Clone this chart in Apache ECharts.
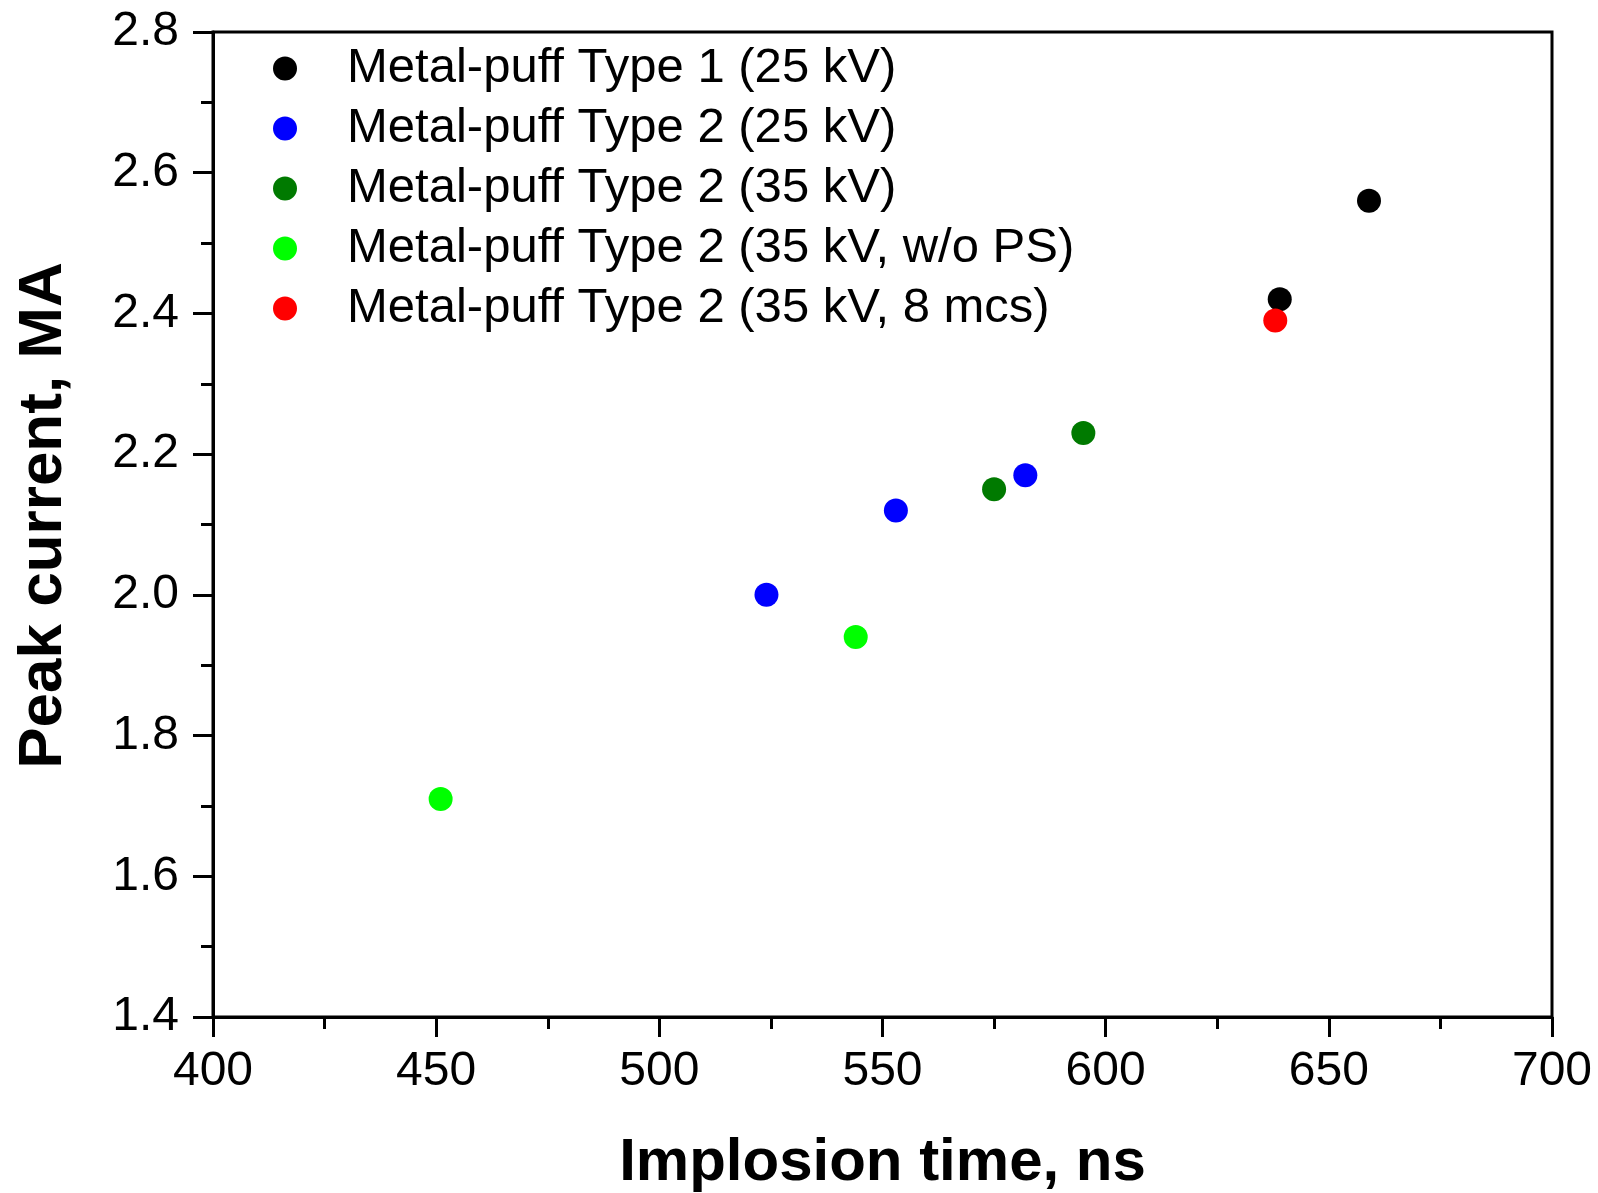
<!DOCTYPE html>
<html>
<head>
<meta charset="utf-8">
<title>Peak current vs implosion time</title>
<script src="https://cdn.jsdelivr.net/npm/echarts@6/dist/echarts.min.js"></script>
<style>
  html, body { margin: 0; padding: 0; background: #fff; }
  #chart { width: 1598px; height: 1193px; }
</style>
</head>
<body>
<div id="chart"></div>
<script>
// series names (legend order)
const seriesNames = [
  'Metal-puff Type 1 (25 kV)',
  'Metal-puff Type 2 (25 kV)',
  'Metal-puff Type 2 (35 kV)',
  'Metal-puff Type 2 (35 kV, w/o PS)',
  'Metal-puff Type 2 (35 kV, 8 mcs)'
];
const seriesColors = ['#000000', '#0000ff', '#007a00', '#00ff00', '#ff0000'];

// implosion time (ns) / peak current (MA)
const type1_25kV     = [[639, 2.42], [659, 2.56]];
const type2_25kV     = [[524, 2.00], [553, 2.12], [582, 2.17]];
const type2_35kV     = [[575, 2.15], [595, 2.23]];
const type2_35kV_noPS = [[451, 1.71], [544, 1.94]];
const type2_35kV_8mcs = [[638, 2.39]];

const seriesData = [type1_25kV, type2_25kV, type2_35kV, type2_35kV_noPS, type2_35kV_8mcs];

const fontFamily = 'Arial, "Liberation Sans", Helvetica, sans-serif';

(function () {
  const chart = echarts.init(document.getElementById('chart'));

  const axisCommon = {
    axisLine: { show: true, onZero: false, lineStyle: { color: '#000', width: 3 } },
    axisTick: { show: true, inside: false, length: 20, lineStyle: { color: '#000', width: 3 } },
    minorTick: { show: true, splitNumber: 2, length: 12, lineStyle: { color: '#000', width: 3 } },
    splitLine: { show: false },
    nameLocation: 'middle'
  };

  chart.setOption({
    animation: false,
    backgroundColor: '#fff',
    grid: {
      left: 213, right: 46, top: 32, bottom: 176,
      outerBoundsMode: 'none',
      containLabel: false,
      show: true, borderColor: '#000', borderWidth: 3
    },
    legend: {
      orient: 'vertical',
      left: 268,
      top: 39,
      icon: 'circle',
      itemWidth: 24,
      itemHeight: 24,
      itemGap: 11,
      data: seriesNames,
      textStyle: {
        fontFamily: fontFamily, fontSize: 49, color: '#000',
        lineHeight: 49, padding: [0, 0, 0, 45]
      }
    },
    xAxis: Object.assign({}, axisCommon, {
      type: 'value',
      min: 400, max: 700, interval: 50,
      name: 'Implosion time, ns',
      nameGap: 116,
      nameTextStyle: { fontFamily: fontFamily, fontSize: 60, fontWeight: 'bold', color: '#000' },
      axisLabel: { margin: 31, fontFamily: fontFamily, fontSize: 48, color: '#000' }
    }),
    yAxis: Object.assign({}, axisCommon, {
      type: 'value',
      min: 1.4, max: 2.8, interval: 0.2,
      name: 'Peak current, MA',
      nameGap: 138,
      nameTextStyle: {
        fontFamily: fontFamily, fontSize: 62, fontWeight: 'bold', color: '#000',
        padding: [0, 0, 0, 18]
      },
      axisLabel: {
        margin: 34, fontFamily: fontFamily, fontSize: 48, color: '#000',
        formatter: function (v) { return v.toFixed(1); }
      }
    }),
    series: seriesNames.map(function (name, i) {
      return {
        name: name,
        type: 'scatter',
        symbol: 'circle',
        symbolSize: 24,
        itemStyle: { color: seriesColors[i], opacity: 1 },
        data: seriesData[i]
      };
    })
  });

  window.addEventListener('resize', function () { chart.resize(); });
})();
</script>
</body>
</html>
